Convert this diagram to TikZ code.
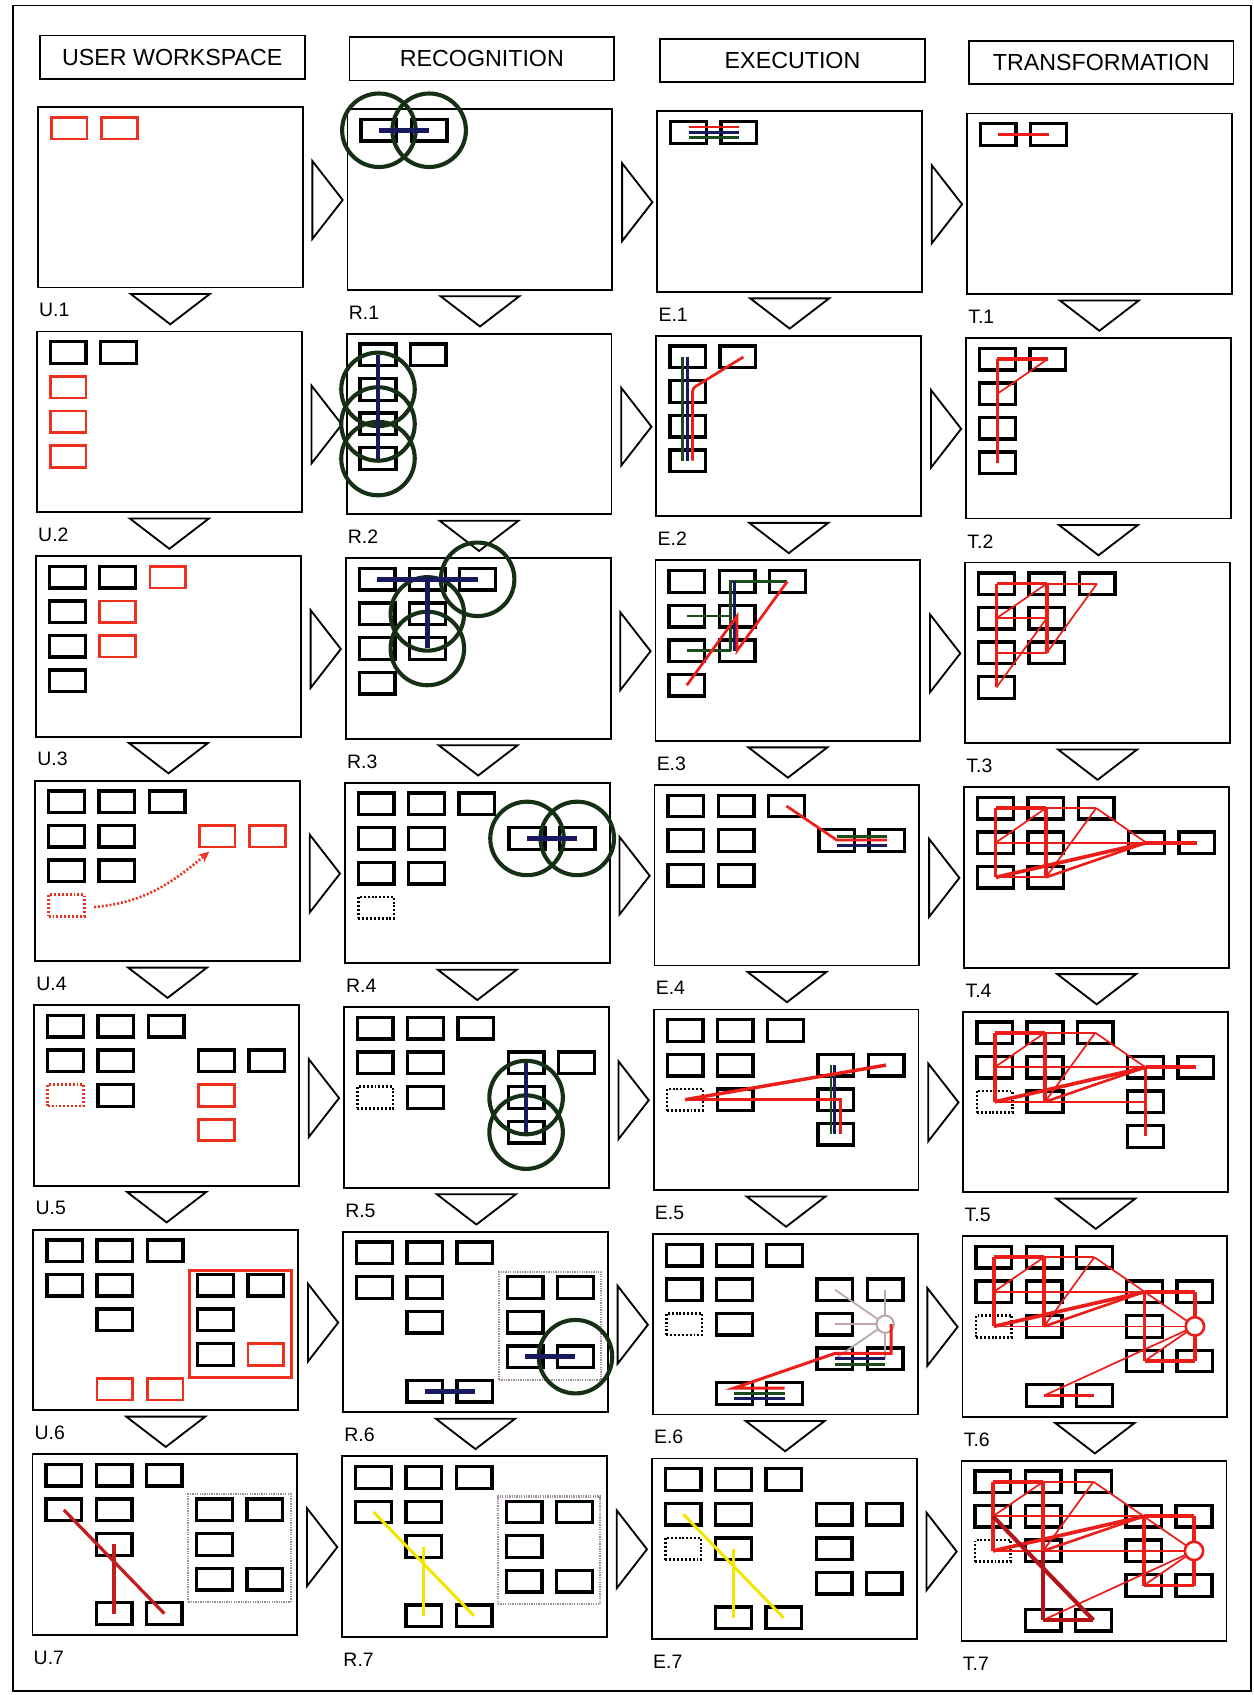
\documentclass[tikz,border=0pt]{standalone}
\usepackage{fontspec}
\setmainfont{Liberation Sans}
\usetikzlibrary{arrows.meta}
\definecolor{boxred}{RGB}{238,48,30}
\definecolor{lred}{RGB}{235,30,25}
\definecolor{dred}{RGB}{180,20,25}
\definecolor{ured}{RGB}{195,30,30}
\definecolor{navy}{RGB}{25,25,95}
\definecolor{lgreen}{RGB}{30,75,30}
\definecolor{cgreen}{RGB}{22,48,22}
\definecolor{yel}{RGB}{245,230,0}
\definecolor{spoke}{RGB}{185,165,170}
\definecolor{gfr}{RGB}{160,140,160}
\tikzset{
 bx/.style={draw=black,line width=3.1pt,minimum width=33pt,minimum height=20pt,inner sep=0pt,outer sep=0pt},
 rbx/.style={bx,draw=boxred,line width=2.5pt},
 dbx/.style={bx,line width=2.4pt,dash pattern=on 1.8pt off 1.8pt},
 rdbx/.style={dbx,draw=boxred},
 pnl/.style={draw,line width=1.7pt,minimum width=245pt,minimum height=167pt,inner sep=0pt,outer sep=0pt,anchor=north west},
 hdr/.style={draw,line width=1.7pt,minimum width=245pt,minimum height=40pt,inner sep=0pt,anchor=north west,font=\fontsize{21.5}{24}\selectfont},
 lbl/.style={anchor=west,inner sep=0pt,font=\fontsize{18}{20}\selectfont},
 tri/.style={draw,line width=1.7pt,line join=miter},
 rec/.style={draw=cgreen,line width=3.8pt,circle,minimum size=68pt,inner sep=0pt},
 nv/.style={navy,line width=4.2pt},
 en/.style={navy,line width=2.5pt},
 eg/.style={lgreen,line width=2.5pt},
 er/.style={lred,line width=2.5pt},
 tn/.style={lred,line width=1.6pt},
 tm/.style={lred,line width=2.4pt},
 tk/.style={lred,line width=3.4pt},
 dk/.style={dred,line width=3.8pt},
 ul/.style={ured,line width=3pt},
 yl/.style={yel,line width=2.8pt},
 spk/.style={spoke,line width=1.6pt},
 gframe/.style={draw=gfr,line width=2pt,dash pattern=on 1.2pt off 1pt,minimum width=94.6pt,minimum height=99.6pt,inner sep=0pt,anchor=north west},
 rframe/.style={draw=boxred,line width=2.6pt,minimum width=94.6pt,minimum height=99.6pt,inner sep=0pt,anchor=north west},
 tcirc/.style={circle,draw=lred,line width=2.4pt,fill=white,minimum size=17pt,inner sep=0pt},
 scirc/.style={circle,draw=spoke,line width=1.8pt,minimum size=16pt,inner sep=0pt},
}
\newcommand\pn{}
\newcommand\setp[3]{\def\pn{#1}\pgfmathsetmacro\pX{35+286.5*#2-0.83*#3}\pgfmathsetmacro\pY{99+2*#2+207.7*#3}}
\newcommand\bxat[3][bx]{\node[#1] (\pn-#2-#3) at ({29+46.5*#2},{19.5+32*#3}) {};}
\newcommand\bxs[2][bx]{\edef\sL{#2}\foreach \sI/\sJ in \sL {\bxat[#1]{\sI}{\sJ}}}
\newcommand\lk[3]{\draw[#1] (\pn-#2.center) -- (\pn-#3.center);}
\newcommand\lks[2]{\edef\sM{#2}\foreach \sA/\sB in \sM {\lk{#1}{\sA}{\sB}}}
\newcommand\rc[1]{\node[rec] (\pn-r#1) at (\pn-#1.center) {};}
\newcommand\frm[3]{%
 \node[pnl] (\pn) at (0,0) {};
 \node[lbl] (\pn-lab) at (1,188) {#1};
 \ifnum#2=1\relax \draw[tri] (254,50) -- (282,86) -- (254,122) -- cycle;\fi
 \ifnum#3=1\relax \draw[tri] (86,173) -- (159,173) -- (122.5,201) -- cycle;\fi}
\newcommand\SsixA{0/0,1/0,2/0,0/1,1/1,1/2,3/1,4/1,3/2,3/3,4/3,1/4,2/4}
\newcommand\TfourL{%
 \lks{tn}{1-0/2-0,1-0/0-1,0-1/3-1,0-2/1-2,1-2/2-0,2-0/3-1}
 \lks{tm}{1-2/3-1}
 \lks{tk}{0-0/1-0,0-0/0-2,1-0/1-2,0-2/3-1,3-1/4-1}}
\newcommand\TfiveL{\TfourL\lks{tn}{0-2/3-2}\lks{tk}{3-1/3-3}}
\newcommand\TsixL{%
 \coordinate (\pn-4-2) at ({29+46.5*4},{19.5+64});
 \TfiveL
 \lks{tn}{3-2/4-2,4-2/3-1,4-2/3-3,4-2/1-4}
 \lks{tk}{4-1/4-3,4-3/3-3,1-4/2-4}}
\begin{document}
\begin{tikzpicture}[x=1pt,y=-1pt]
\useasboundingbox (0,0) rectangle (1160,1568);
\draw[line width=1.6pt] (12,5) rectangle (1157,1564);
\node[hdr] (H-U) at (36,32) {USER WORKSPACE};
\node[hdr] (H-R) at (322.4,33.6) {RECOGNITION};
\node[hdr] (H-E) at (609.8,35.2) {EXECUTION};
\node[hdr] (H-T) at (895.2,36.8) {TRANSFORMATION};
% ---------------- USER WORKSPACE
\setp{U1}{0}{0}
\begin{scope}[shift={(\pX,\pY)}]
\frm{U.1}{1}{1}
\bxs[rbx]{0/0,1/0}
\end{scope}
\setp{U2}{0}{1}
\begin{scope}[shift={(\pX,\pY)}]
\frm{U.2}{1}{1}
\bxs{0/0,1/0}\bxs[rbx]{0/1,0/2,0/3}
\end{scope}
\setp{U3}{0}{2}
\begin{scope}[shift={(\pX,\pY)}]
\frm{U.3}{1}{1}
\bxs{0/0,1/0,0/1,0/2,0/3}\bxs[rbx]{2/0,1/1,1/2}
\end{scope}
\setp{U4}{0}{3}
\begin{scope}[shift={(\pX,\pY)}]
\frm{U.4}{1}{1}
\bxs{0/0,1/0,2/0,0/1,1/1,0/2,1/2}\bxs[rbx]{3/1,4/1}\bxs[rdbx]{0/3}
\draw[boxred,line width=2.4pt,dash pattern=on 1.8pt off 1.8pt,-{Stealth[length=10pt,width=9pt]}]
 ([xshift=9pt,yshift=-1.5pt]\pn-0-3.east) to[out=5,in=220] ([xshift=9pt,yshift=-4.3pt]\pn-3-1.south west);
\end{scope}
\setp{U5}{0}{4}
\begin{scope}[shift={(\pX,\pY)}]
\frm{U.5}{1}{1}
\bxs{0/0,1/0,2/0,0/1,1/1,1/2,3/1,4/1}\bxs[rdbx]{0/2}\bxs[rbx]{3/2,3/3}
\end{scope}
\setp{U6}{0}{5}
\begin{scope}[shift={(\pX,\pY)}]
\frm{U.6}{1}{1}
\node[rframe] (\pn-frm) at (143.2,36.2) {};
\bxs{0/0,1/0,2/0,0/1,1/1,1/2,3/1,4/1,3/2,3/3}\bxs[rbx]{4/3,1/4,2/4}
\end{scope}
\setp{U7}{0}{6}
\begin{scope}[shift={(\pX,\pY)}]
\frm{U.7}{1}{0}
\node[gframe] (\pn-frm) at (143.2,36.2) {};
\bxs{\SsixA}
\lks{ul}{0-1/2-4,1-2/1-4}
\end{scope}
% ---------------- RECOGNITION
\setp{R1}{1}{0}
\begin{scope}[shift={(\pX,\pY)}]
\frm{R.1}{1}{1}
\bxs{0/0,1/0}
\rc{0-0}\rc{1-0}
\lk{nv}{0-0}{1-0}
\end{scope}
\setp{R2}{1}{1}
\begin{scope}[shift={(\pX,\pY)}]
\frm{R.2}{1}{1}
\bxs{0/0,1/0,0/1,0/2,0/3}
\rc{0-1}\rc{0-2}\rc{0-3}
\lk{nv}{0-0}{0-3}
\end{scope}
\setp{R3}{1}{2}
\begin{scope}[shift={(\pX,\pY)}]
\frm{R.3}{1}{1}
\bxs{0/0,1/0,2/0,0/1,1/1,0/2,1/2,0/3}
\rc{2-0}\rc{1-1}\rc{1-2}
\lk{nv}{0-0}{2-0}\lk{nv}{1-0}{1-2}
\end{scope}
\setp{R4}{1}{3}
\begin{scope}[shift={(\pX,\pY)}]
\frm{R.4}{1}{1}
\bxs{0/0,1/0,2/0,0/1,1/1,0/2,1/2,3/1,4/1}\bxs[dbx]{0/3}
\rc{3-1}\rc{4-1}
\lk{nv}{3-1}{4-1}
\end{scope}
\setp{R5}{1}{4}
\begin{scope}[shift={(\pX,\pY)}]
\frm{R.5}{1}{1}
\bxs{0/0,1/0,2/0,0/1,1/1,1/2,3/1,4/1,3/2,3/3}\bxs[dbx]{0/2}
\rc{3-2}\rc{3-3}
\lk{nv}{3-1}{3-3}
\end{scope}
\setp{R6}{1}{5}
\begin{scope}[shift={(\pX,\pY)}]
\frm{R.6}{1}{1}
\node[gframe] (\pn-frm) at (143.2,36.2) {};
\bxs{\SsixA}
\rc{4-3}
\lk{nv}{3-3}{4-3}\lk{nv}{1-4}{2-4}
\end{scope}
\setp{R7}{1}{6}
\begin{scope}[shift={(\pX,\pY)}]
\frm{R.7}{1}{0}
\node[gframe] (\pn-frm) at (143.2,36.2) {};
\bxs{\SsixA}
\lks{yl}{0-1/2-4,1-2/1-4}
\end{scope}
% ---------------- EXECUTION
\setp{E1}{2}{0}
\begin{scope}[shift={(\pX,\pY)}]
\frm{E.1}{1}{1}
\bxs{0/0,1/0}
\draw[er] ([yshift=5pt]\pn-0-0.center) -- ([yshift=5pt]\pn-1-0.center);
\draw[en] (\pn-0-0.center) -- (\pn-1-0.center);
\draw[eg] ([yshift=-5pt]\pn-0-0.center) -- ([yshift=-5pt]\pn-1-0.center);
\end{scope}
\setp{E2}{2}{1}
\begin{scope}[shift={(\pX,\pY)}]
\frm{E.2}{1}{1}
\bxs{0/0,1/0,0/1,0/2,0/3}
\draw[eg] ([xshift=-4.5pt]\pn-0-0.center) -- ([xshift=-4.5pt]\pn-0-3.center);
\draw[en] (\pn-0-0.center) -- (\pn-0-3.center);
\draw[er,rounded corners=3pt] ([xshift=5pt]\pn-1-0.center) -- ([xshift=4.5pt,yshift=3pt]\pn-0-1.center) -- ([xshift=4.5pt]\pn-0-3.center);
\end{scope}
\setp{E3}{2}{2}
\begin{scope}[shift={(\pX,\pY)}]
\frm{E.3}{1}{1}
\bxs{0/0,1/0,2/0,0/1,1/1,0/2,1/2,0/3}
\draw[eg] (\pn-2-0.center) -- ([xshift=-6pt]\pn-1-0.center) -- ([xshift=-6pt]\pn-1-2.center);
\draw[eg] (\pn-0-1.center) -- ([xshift=-6pt]\pn-1-1.center);
\draw[eg] (\pn-0-2.center) -- ([xshift=-6pt]\pn-1-2.center);
\draw[en] ([xshift=-2.5pt]\pn-1-0.center) -- ([xshift=-2.5pt]\pn-1-2.center);
\draw[er] (\pn-0-3.center) -- (\pn-1-1.center) -- (\pn-1-2.center) -- (\pn-2-0.center);
\end{scope}
\setp{E4}{2}{3}
\begin{scope}[shift={(\pX,\pY)}]
\frm{E.4}{1}{1}
\bxs{0/0,1/0,2/0,0/1,1/1,0/2,1/2,3/1,4/1}
\draw[eg] ([yshift=4pt]\pn-3-1.center) -- ([yshift=4pt]\pn-4-1.center);
\draw[er] (\pn-2-0.center) -- ([yshift=0.5pt]\pn-3-1.center) -- ([yshift=0.5pt]\pn-4-1.center);
\draw[en] ([yshift=-4.5pt]\pn-3-1.center) -- ([yshift=-4.5pt]\pn-4-1.center);
\end{scope}
\setp{E5}{2}{4}
\begin{scope}[shift={(\pX,\pY)}]
\frm{E.5}{1}{1}
\bxs{0/0,1/0,2/0,0/1,1/1,1/2,3/1,4/1,3/2,3/3}\bxs[dbx]{0/2}
\draw[eg] ([xshift=-4.5pt]\pn-3-1.center) -- ([xshift=-4.5pt]\pn-3-3.center);
\draw[en] ([xshift=-1pt]\pn-3-1.center) -- ([xshift=-1pt]\pn-3-3.center);
\draw[er] (\pn-0-2.center) -- ([xshift=4.5pt]\pn-3-2.center) -- ([xshift=4.5pt]\pn-3-3.center);
\draw[er,line width=3.2pt] (\pn-0-2.center) -- (\pn-4-1.center);
\end{scope}
\setp{E6}{2}{5}
\begin{scope}[shift={(\pX,\pY)}]
\frm{E.6}{1}{1}
\bxs{\SsixA}\bxs[dbx]{0/2}
\node[scirc] (\pn-4-2) at ({29+46.5*4},{19.5+64}) {};
\foreach \sT in {3-1,4-1,3-2,3-3,4-3}{\draw[spk] (\pn-4-2) -- (\pn-\sT.center);}
\draw[en] (\pn-3-3.center) -- (\pn-4-3.center);
\draw[eg] ([yshift=-5pt]\pn-3-3.center) -- ([yshift=-5pt]\pn-4-3.center);
\draw[eg] (\pn-1-4.center) -- (\pn-2-4.center);
\draw[en] ([yshift=-5pt]\pn-1-4.center) -- ([yshift=-5pt]\pn-2-4.center);
\draw[er,line width=2.8pt] ([xshift=5.5pt]\pn-4-2.center) -- ([xshift=5.5pt,yshift=5pt]\pn-4-3.center) -- ([yshift=5pt]\pn-3-3.center) -- ([yshift=5pt]\pn-1-4.center) -- ([yshift=5pt]\pn-2-4.center);
\end{scope}
\setp{E7}{2}{6}
\begin{scope}[shift={(\pX,\pY)}]
\frm{E.7}{1}{0}
\bxs{\SsixA}\bxs[dbx]{0/2}
\lks{yl}{0-1/2-4,1-2/1-4}
\end{scope}
% ---------------- TRANSFORMATION
\setp{T1}{3}{0}
\begin{scope}[shift={(\pX,\pY)}]
\frm{T.1}{0}{1}
\bxs{0/0,1/0}
\lk{tk}{0-0}{1-0}
\end{scope}
\setp{T2}{3}{1}
\begin{scope}[shift={(\pX,\pY)}]
\frm{T.2}{0}{1}
\bxs{0/0,1/0,0/1,0/2,0/3}
\lks{tn}{1-0/0-1}
\lks{tk}{0-0/1-0,0-0/0-3}
\end{scope}
\setp{T3}{3}{2}
\begin{scope}[shift={(\pX,\pY)}]
\frm{T.3}{0}{1}
\bxs{0/0,1/0,2/0,0/1,1/1,0/2,1/2,0/3}
\lks{tn}{1-0/2-0,1-0/0-1,0-1/1-1,0-2/1-2,0-3/1-1,1-2/2-0}
\lks{tk}{0-0/1-0,0-0/0-3,1-0/1-2}
\end{scope}
\setp{T4}{3}{3}
\begin{scope}[shift={(\pX,\pY)}]
\frm{T.4}{0}{1}
\bxs{0/0,1/0,2/0,0/1,1/1,0/2,1/2,3/1,4/1}
\TfourL
\end{scope}
\setp{T5}{3}{4}
\begin{scope}[shift={(\pX,\pY)}]
\frm{T.5}{0}{1}
\bxs{0/0,1/0,2/0,0/1,1/1,1/2,3/1,4/1,3/2,3/3}\bxs[dbx]{0/2}
\TfiveL
\end{scope}
\setp{T6}{3}{5}
\begin{scope}[shift={(\pX,\pY)}]
\frm{T.6}{0}{1}
\bxs{\SsixA}\bxs[dbx]{0/2}
\TsixL
\node[tcirc] (\pn-circ) at (\pn-4-2) {};
\end{scope}
\setp{T7}{3}{6}
\begin{scope}[shift={(\pX,\pY)}]
\frm{T.7}{0}{0}
\bxs{\SsixA}\bxs[dbx]{0/2}
\TsixL
\lks{dk}{0-1/2-4,1-2/1-4,1-4/2-4}
\node[tcirc] (\pn-circ) at (\pn-4-2) {};
\end{scope}
\end{tikzpicture}
\end{document}
